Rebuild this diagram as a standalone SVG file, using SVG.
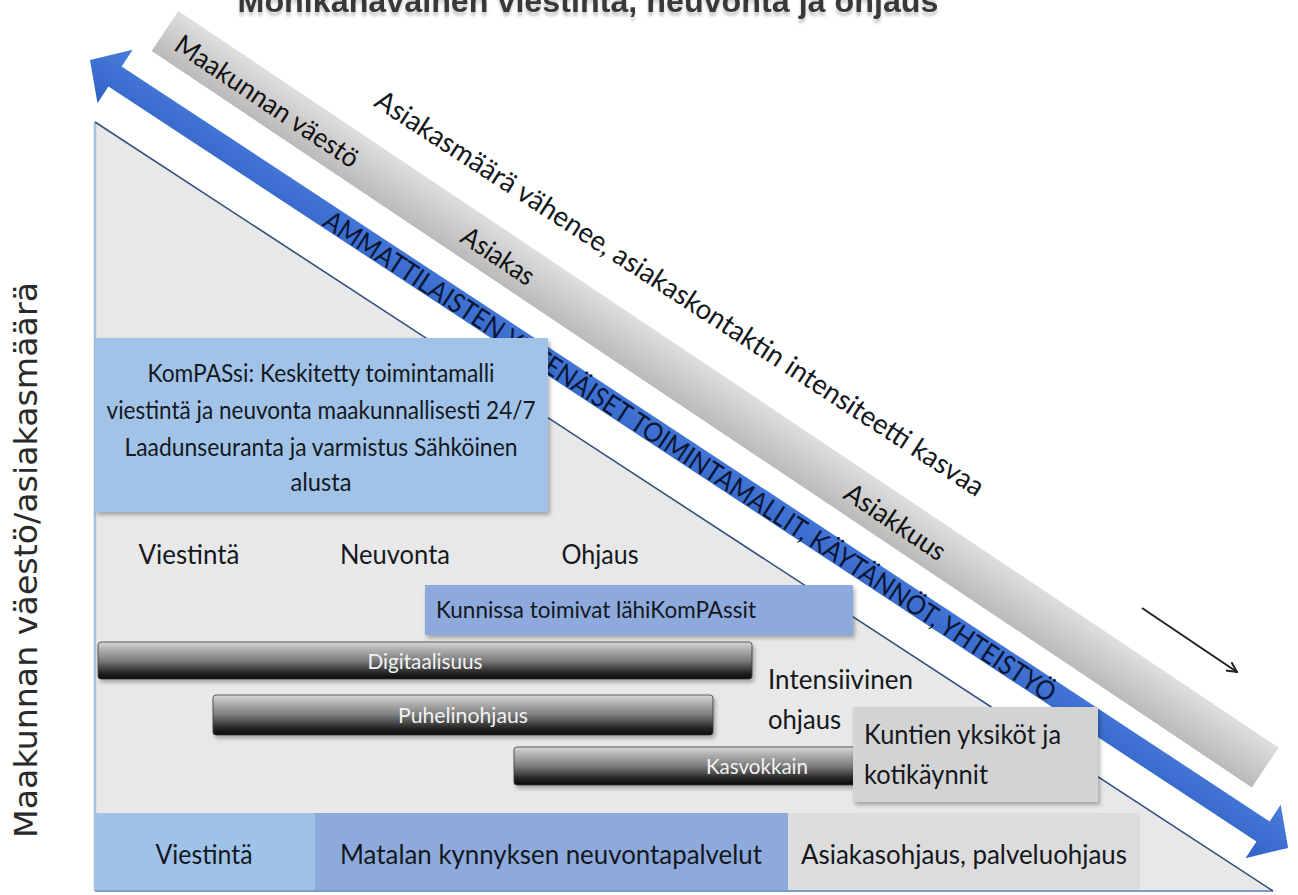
<svg xmlns="http://www.w3.org/2000/svg" width="1298" height="895" viewBox="0 0 1298 895">
  <defs>
    <style>
      .sans { font-family: "Lato", "Open Sans", "Liberation Sans", sans-serif; fill: #141820; }
      .bar-label { font-family: "Lato", "Open Sans", "Liberation Sans", sans-serif; fill: #f2f2f2; font-size: 21px; text-anchor: middle; }
      .lbl { font-size: 26px; }
      .mid { text-anchor: middle; }
      .band-text { font-size: 27px; text-anchor: middle; fill: #111; }
      .edge-line { fill: none; }
    </style>
    <linearGradient id="barGrad" x1="0" y1="0" x2="0" y2="1">
      <stop offset="0" stop-color="#d8d8d8"/>
      <stop offset="0.18" stop-color="#b4b4b4"/>
      <stop offset="0.5" stop-color="#7c7c7c"/>
      <stop offset="0.82" stop-color="#272727"/>
      <stop offset="1" stop-color="#0a0a0a"/>
    </linearGradient>
    <linearGradient id="bandGrad" x1="0" y1="0" x2="0" y2="1">
      <stop offset="0" stop-color="#dedede"/>
      <stop offset="1" stop-color="#bababa"/>
    </linearGradient>
    <linearGradient id="arrowGrad" x1="0" y1="0" x2="0" y2="1">
      <stop offset="0" stop-color="#4a7ddb"/>
      <stop offset="1" stop-color="#3163c6"/>
    </linearGradient>
    <filter id="shadow" x="-10%" y="-20%" width="120%" height="160%">
      <feDropShadow dx="2" dy="3" stdDeviation="2" flood-color="#000" flood-opacity="0.3"/>
    </filter>
    <!-- soft grey reflection under the title -->
    <filter id="titleGlow" x="-5%" y="-50%" width="110%" height="250%">
      <feGaussianBlur in="SourceAlpha" stdDeviation="1.6" result="blur"/>
      <feOffset in="blur" dy="4" result="off"/>
      <feFlood flood-color="#8a8a8a" flood-opacity="0.45"/>
      <feComposite in2="off" operator="in" result="shade"/>
      <feMerge>
        <feMergeNode in="shade"/>
        <feMergeNode in="SourceGraphic"/>
      </feMerge>
    </filter>
    <marker id="openHead" viewBox="0 0 12 12" refX="11" refY="6" markerWidth="12" markerHeight="12" markerUnits="userSpaceOnUse" orient="auto">
      <path d="M1,1 L11,6 L1,11" fill="none" stroke="#222" stroke-width="2"/>
    </marker>
  </defs>

  <rect width="1298" height="895" fill="#ffffff"/>

  <!-- title, partly above the top edge -->
  <g id="title">
    <text x="588" y="12" text-anchor="middle" font-family="Liberation Sans, Arial, sans-serif" font-weight="bold" font-size="32" fill="#383838" textLength="701" lengthAdjust="spacingAndGlyphs" filter="url(#titleGlow)">Monikanavainen viestintä, neuvonta ja ohjaus</text>
  </g>

  <!-- vertical axis label -->
  <g id="axis-label">
    <text transform="translate(37,560) rotate(-90)" text-anchor="middle" font-family="DejaVu Sans, Verdana, sans-serif" font-size="32" fill="#2a2a2a" textLength="556" lengthAdjust="spacingAndGlyphs">Maakunnan väestö/asiakasmäärä</text>
  </g>

  <!-- main triangle -->
  <g id="triangle">
    <polygon points="95,122 95,891 1273,891" fill="#e8e8e8"/>
    <line x1="95" y1="122" x2="95" y2="891" stroke="#a7bfe0" stroke-width="2.5" class="edge-line"/>
    <line x1="95" y1="891" x2="1273" y2="891" stroke="#7e9cc9" stroke-width="2" class="edge-line"/>
    <line x1="95" y1="122" x2="1273" y2="891" stroke="#34507c" stroke-width="1.6" class="edge-line"/>
  </g>

  <!-- grey diagonal band: population to customer relationship -->
  <g id="population-band" transform="translate(165,31) rotate(33.8)">
    <rect x="0" y="-24" width="1324" height="48" fill="url(#bandGrad)"/>
    <text class="sans band-text" x="124" y="11" textLength="215" lengthAdjust="spacingAndGlyphs">Maakunnan väestö</text>
    <text class="sans band-text" x="402" y="11" textLength="82" lengthAdjust="spacingAndGlyphs">Asiakas</text>
    <text class="sans band-text" x="880" y="11" textLength="116" lengthAdjust="spacingAndGlyphs">Asiakkuus</text>
  </g>

  <g id="trend-label">
    <text class="sans" transform="translate(680,293) rotate(33)" x="0" y="10" font-size="28" text-anchor="middle" fill="#111" textLength="720" lengthAdjust="spacingAndGlyphs">Asiakasmäärä vähenee, asiakaskontaktin intensiteetti kasvaa</text>
  </g>

  <!-- connectors: double-headed professional practice arrow and small direction arrow -->
  <g id="connectors">
    <g id="practice-arrow" transform="translate(90,60) rotate(33.33)">
      <polygon points="0,0 30,-32 30,-12 1404,-12 1404,-32 1434,0 1404,32 1404,12 30,12 30,32" fill="url(#arrowGrad)"/>
      <text x="719" y="11" font-family="Lato, Open Sans, Liberation Sans, sans-serif" font-size="27" text-anchor="middle" fill="#0a1633" textLength="870" lengthAdjust="spacingAndGlyphs">AMMATTILAISTEN YHTENÄISET TOIMINTAMALLIT, KÄYTÄNNÖT, YHTEISTYÖ</text>
    </g>
    <line id="direction-arrow" x1="1142" y1="608" x2="1237" y2="672" stroke="#222" stroke-width="2" marker-end="url(#openHead)"/>
  </g>

  <!-- central model box -->
  <g id="kompassi">
    <rect x="95" y="338" width="453" height="174" fill="#a2c3e8" filter="url(#shadow)"/>
    <text class="sans mid" x="321" y="381.5" font-size="25" textLength="347" lengthAdjust="spacingAndGlyphs">KomPASsi: Keskitetty toimintamalli</text>
    <text class="sans mid" x="321" y="418.5" font-size="25" textLength="429" lengthAdjust="spacingAndGlyphs">viestintä ja neuvonta maakunnallisesti 24/7</text>
    <text class="sans mid" x="321" y="455.5" font-size="25" textLength="393" lengthAdjust="spacingAndGlyphs">Laadunseuranta ja varmistus Sähköinen</text>
    <text class="sans mid" x="321" y="490.5" font-size="25" textLength="61" lengthAdjust="spacingAndGlyphs">alusta</text>
  </g>

  <!-- service level headings -->
  <g id="headings">
    <text class="sans lbl mid" x="189" y="564" textLength="101" lengthAdjust="spacingAndGlyphs">Viestintä</text>
    <text class="sans lbl mid" x="395" y="564" textLength="110" lengthAdjust="spacingAndGlyphs">Neuvonta</text>
    <text class="sans lbl mid" x="600" y="564" textLength="77" lengthAdjust="spacingAndGlyphs">Ohjaus</text>
  </g>

  <g id="lahikompassit">
    <rect x="425" y="585" width="428" height="50" fill="#8eaadc" filter="url(#shadow)"/>
    <text class="sans" x="436" y="618" font-size="24" textLength="320" lengthAdjust="spacingAndGlyphs">Kunnissa toimivat lähiKomPAssit</text>
  </g>

  <!-- channel bars -->
  <g id="digitaalisuus">
    <rect x="98" y="642" width="654" height="37" rx="3" fill="url(#barGrad)" stroke="#3a3a3a" stroke-width="0.8" filter="url(#shadow)"/>
    <text class="bar-label" x="425" y="669" textLength="115" lengthAdjust="spacingAndGlyphs">Digitaalisuus</text>
  </g>
  <g id="puhelinohjaus">
    <rect x="213" y="695" width="500" height="40" rx="3" fill="url(#barGrad)" stroke="#3a3a3a" stroke-width="0.8" filter="url(#shadow)"/>
    <text class="bar-label" x="463" y="723" textLength="130" lengthAdjust="spacingAndGlyphs">Puhelinohjaus</text>
  </g>
  <g id="kasvokkain">
    <rect x="514" y="747" width="345" height="38" rx="3" fill="url(#barGrad)" stroke="#3a3a3a" stroke-width="0.8" filter="url(#shadow)"/>
    <text class="bar-label" x="757" y="774" font-size="20" textLength="102" lengthAdjust="spacingAndGlyphs">Kasvokkain</text>
  </g>

  <g id="intensiivinen">
    <text class="sans lbl" x="768" y="689" textLength="145" lengthAdjust="spacingAndGlyphs">Intensiivinen</text>
    <text class="sans lbl" x="768" y="729" textLength="73" lengthAdjust="spacingAndGlyphs">ohjaus</text>
  </g>

  <g id="kuntien-yksikot">
    <rect x="853" y="707" width="245" height="95" fill="#d3d3d3" filter="url(#shadow)"/>
    <text class="sans lbl" x="864" y="744" textLength="197" lengthAdjust="spacingAndGlyphs">Kuntien yksiköt ja</text>
    <text class="sans lbl" x="864" y="784" textLength="124" lengthAdjust="spacingAndGlyphs">kotikäynnit</text>
  </g>

  <!-- bottom service row -->
  <g id="row-viestinta">
    <rect x="96" y="813" width="219" height="77" fill="#9fc2e8"/>
    <text class="sans lbl mid" x="204" y="864" textLength="97" lengthAdjust="spacingAndGlyphs">Viestintä</text>
  </g>
  <g id="row-neuvonta">
    <rect x="315" y="813" width="473" height="77" fill="#8eaadc"/>
    <text class="sans lbl mid" x="551" y="864" textLength="422" lengthAdjust="spacingAndGlyphs">Matalan kynnyksen neuvontapalvelut</text>
  </g>
  <g id="row-ohjaus">
    <rect x="788" y="813" width="352" height="77" fill="#dcdcdc"/>
    <text class="sans lbl mid" x="964" y="864" textLength="326" lengthAdjust="spacingAndGlyphs">Asiakasohjaus, palveluohjaus</text>
  </g>
</svg>
